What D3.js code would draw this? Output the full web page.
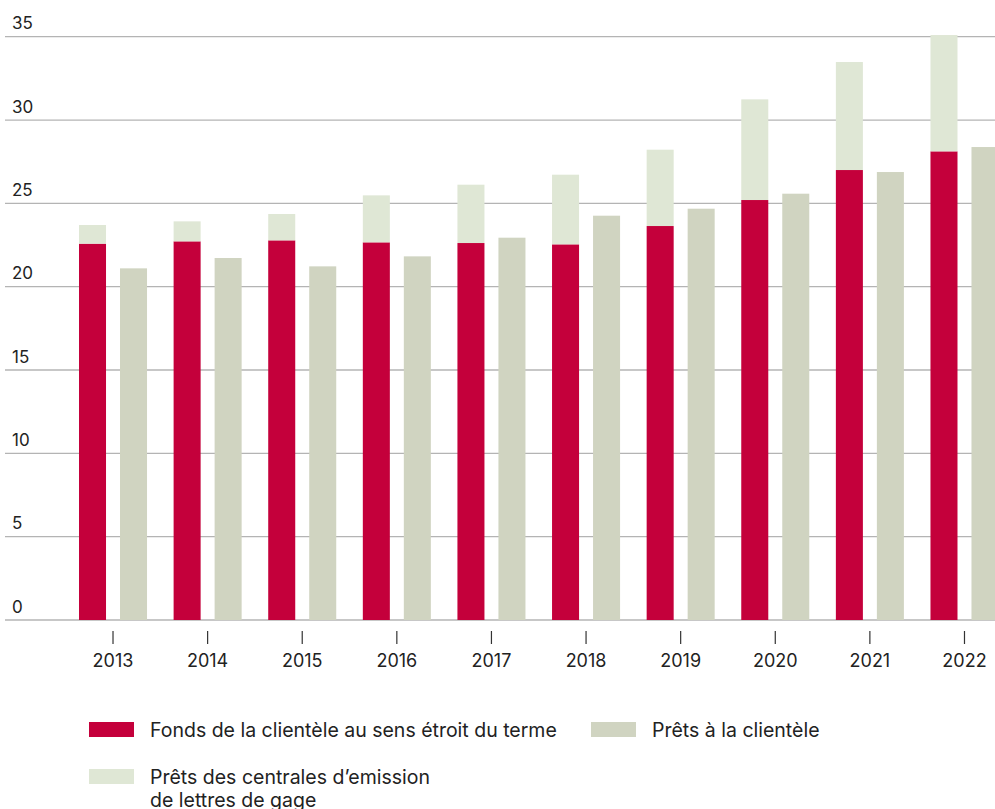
<!DOCTYPE html>
<html lang="fr">
<head>
<meta charset="utf-8">
<script src="https://cdn.jsdelivr.net/npm/d3@7"></script>
<style>
  html, body { margin: 0; padding: 0; background: #fff; }
  svg { display: block; font-family: Inter, "Noto Sans", sans-serif; }
</style>
</head>
<body>
<svg id="chart" width="995" height="809"></svg>
<script>
// Years on the x axis
const years = ["2013","2014","2015","2016","2017","2018","2019","2020","2021","2022"];
// Fonds de la clientèle au sens étroit du terme (bottom of stacked bar)
const fonds = [22.58, 22.72, 22.78, 22.66, 22.62, 22.54, 23.64, 25.2, 27.0, 28.12];
// Prêts des centrales d'emission de lettres de gage (stacked on top)
const pcel = [1.12, 1.2, 1.58, 2.82, 3.5, 4.18, 4.58, 6.04, 6.48, 6.98];
// Prêts à la clientèle (separate bar)
const prets = [21.1, 21.72, 21.22, 21.82, 22.94, 24.26, 24.68, 25.58, 26.88, 28.38];
// Y axis ticks
const yTicks = [0, 5, 10, 15, 20, 25, 30, 35];

const colRed = "#c4003b", colLight = "#dfe7d5", colGrey = "#d0d4c1";

const svg = d3.select("#chart");

const y = d3.scaleLinear().domain([0, 35]).range([620, 36.7]);
const x = d3.scaleBand().domain(years).range([79, 998.5]).paddingInner(0.281).paddingOuter(0);
const xs = d3.scaleBand().domain(["stack", "prets"]).range([0, x.bandwidth()]).paddingInner(0.341);

// Gridlines with labels above them
const grid = svg.append("g");
grid.selectAll("line").data(yTicks).join("line")
  .attr("x1", 5).attr("x2", 995)
  .attr("y1", d => y(d)).attr("y2", d => y(d))
  .attr("stroke", "#b4b4b4").attr("stroke-width", 1.3);
grid.selectAll("text").data(yTicks).join("text")
  .attr("x", 12).attr("y", d => y(d) - 7.5)
  .attr("font-size", 17).attr("fill", "#222")
  .text(d => d);

// Bars
const rows = years.map((yr, i) => ({ yr, fonds: fonds[i], pcel: pcel[i], prets: prets[i] }));
const g = svg.append("g");
const grp = g.selectAll("g").data(rows).join("g")
  .attr("transform", d => `translate(${x(d.yr)},0)`);

grp.append("rect")
  .attr("x", xs("stack")).attr("width", xs.bandwidth())
  .attr("y", d => y(d.fonds)).attr("height", d => y(0) - y(d.fonds))
  .attr("fill", colRed);
grp.append("rect")
  .attr("x", xs("stack")).attr("width", xs.bandwidth())
  .attr("y", d => y(d.fonds + d.pcel)).attr("height", d => y(d.fonds) - y(d.fonds + d.pcel))
  .attr("fill", colLight);
grp.append("rect")
  .attr("x", xs("prets")).attr("width", xs.bandwidth())
  .attr("y", d => y(d.prets)).attr("height", d => y(0) - y(d.prets))
  .attr("fill", colGrey);

// X axis: short ticks and year labels
const xa = svg.append("g");
xa.selectAll("line").data(years).join("line")
  .attr("x1", d => x(d) + x.bandwidth() / 2).attr("x2", d => x(d) + x.bandwidth() / 2)
  .attr("y1", 631).attr("y2", 644)
  .attr("stroke", "#333").attr("stroke-width", 1.2);
xa.selectAll("text").data(years).join("text")
  .attr("x", d => x(d) + x.bandwidth() / 2).attr("y", 667)
  .attr("text-anchor", "middle").attr("font-size", 18).attr("fill", "#222")
  .text(d => d);

// Legend
const legend = [
  { x: 89, y: 722, color: colRed, lines: ["Fonds de la clientèle au sens étroit du terme"] },
  { x: 591, y: 722, color: colGrey, lines: ["Prêts à la clientèle"] },
  { x: 89, y: 769, color: colLight, lines: ["Prêts des centrales d’emission", "de lettres de gage"] }
];
const lg = svg.append("g").selectAll("g").data(legend).join("g")
  .attr("transform", d => `translate(${d.x},${d.y})`);
lg.append("rect").attr("width", 45).attr("height", 15).attr("fill", d => d.color);
lg.append("text")
  .attr("x", 61).attr("y", 15)
  .attr("font-size", 19.5).attr("fill", "#222")
  .selectAll("tspan").data(d => d.lines).join("tspan")
  .attr("x", 61).attr("dy", (d, i) => i === 0 ? 0 : 23)
  .text(d => d);
</script>
</body>
</html>
